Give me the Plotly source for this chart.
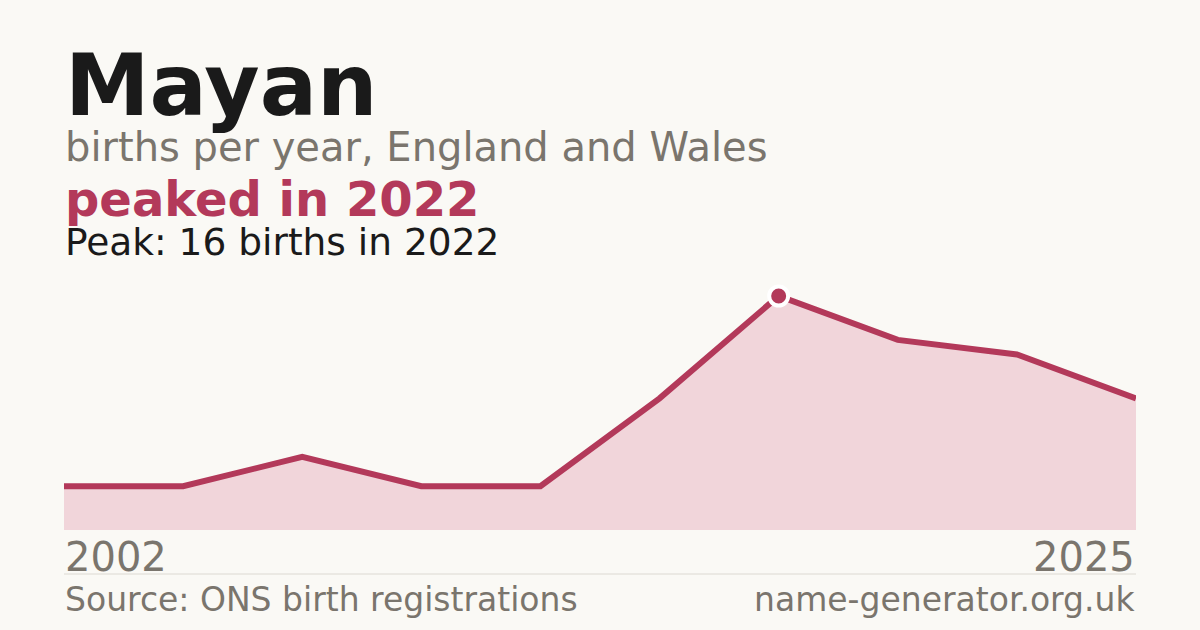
import plotly.graph_objects as go

# data
years = [2002, 2005, 2010, 2014, 2017, 2021, 2022, 2023, 2024, 2025]
births = [3, 3, 5, 3, 3, 9, 16, 13, 12, 9]
peak_year = 2022
peak_value = 16

RED = "#b3395a"
FILL = "#f1d5da"
GREY = "#7a756d"
INK = "#1a1a1a"
BG = "#faf9f5"
FONT = "DejaVu Sans"

W, H = 1200, 630
PLOT_TOP, PLOT_BOTTOM = 260, 530  # pixel rows of the plot area


def py(baseline, size):
    # convert a text baseline (pixels from top) into paper y for yanchor='bottom'
    bottom = baseline + 0.236 * size + 1
    return (PLOT_BOTTOM - bottom) / (PLOT_BOTTOM - PLOT_TOP)


xs = list(range(len(years)))
peak_i = years.index(peak_year)

fig = go.Figure()
fig.add_trace(go.Scatter(
    x=xs, y=births, mode="lines",
    line=dict(color=RED, width=6),
    fill="tozeroy", fillcolor=FILL,
    hoverinfo="skip",
))
fig.add_trace(go.Scatter(
    x=[xs[peak_i]], y=[births[peak_i]], mode="markers",
    marker=dict(color=RED, size=19, line=dict(color="white", width=4)),
    hoverinfo="skip",
))

# y range so that peak lands ~296px
ymax = peak_value * (PLOT_BOTTOM - PLOT_TOP) / (PLOT_BOTTOM - 296)

texts = [
    dict(text="<b>Mayan</b>", size=85, color=INK, base=115, x=0, anchor="left"),
    dict(text="births per year, England and Wales", size=40, color=GREY, base=161, x=0, anchor="left"),
    dict(text=f"<b>peaked in {peak_year}</b>", size=48, color=RED, base=216, x=0, anchor="left"),
    dict(text=f"Peak: {peak_value} births in {peak_year}", size=37.5, color=INK, base=255, x=0, anchor="left"),
    dict(text=str(years[0]), size=40, color=GREY, base=571, x=0, anchor="left"),
    dict(text=str(years[-1]), size=40, color=GREY, base=571, x=1, anchor="right"),
    dict(text="Source: ONS birth registrations", size=33, color=GREY, base=611, x=0, anchor="left"),
    dict(text="name-generator.org.uk", size=33, color=GREY, base=611, x=1, anchor="right"),
]

annotations = []
for t in texts:
    annotations.append(dict(
        text=t["text"], xref="paper", yref="paper",
        x=t["x"], y=py(t["base"], t["size"]),
        xanchor=t["anchor"], yanchor="bottom",
        showarrow=False, borderpad=0,
        font=dict(family=FONT, size=t["size"], color=t["color"]),
    ))

fig.update_layout(
    width=W, height=H,
    paper_bgcolor=BG, plot_bgcolor=BG,
    margin=dict(l=64, r=64, t=PLOT_TOP, b=H - PLOT_BOTTOM, pad=0),
    showlegend=False,
    xaxis=dict(range=[0, len(years) - 1], visible=False, fixedrange=True),
    yaxis=dict(range=[0, ymax], visible=False, fixedrange=True),
    annotations=annotations,
    shapes=[dict(
        type="line", xref="paper", yref="paper",
        x0=0, x1=1,
        y0=(PLOT_BOTTOM - 574) / (PLOT_BOTTOM - PLOT_TOP),
        y1=(PLOT_BOTTOM - 574) / (PLOT_BOTTOM - PLOT_TOP),
        line=dict(color="#dcd9d2", width=1),
    )],
)

fig.write_html(
    "out.html",
    config={"displayModeBar": False},
    post_script="document.body.style.margin='0';document.body.style.background='%s';" % BG,
)
